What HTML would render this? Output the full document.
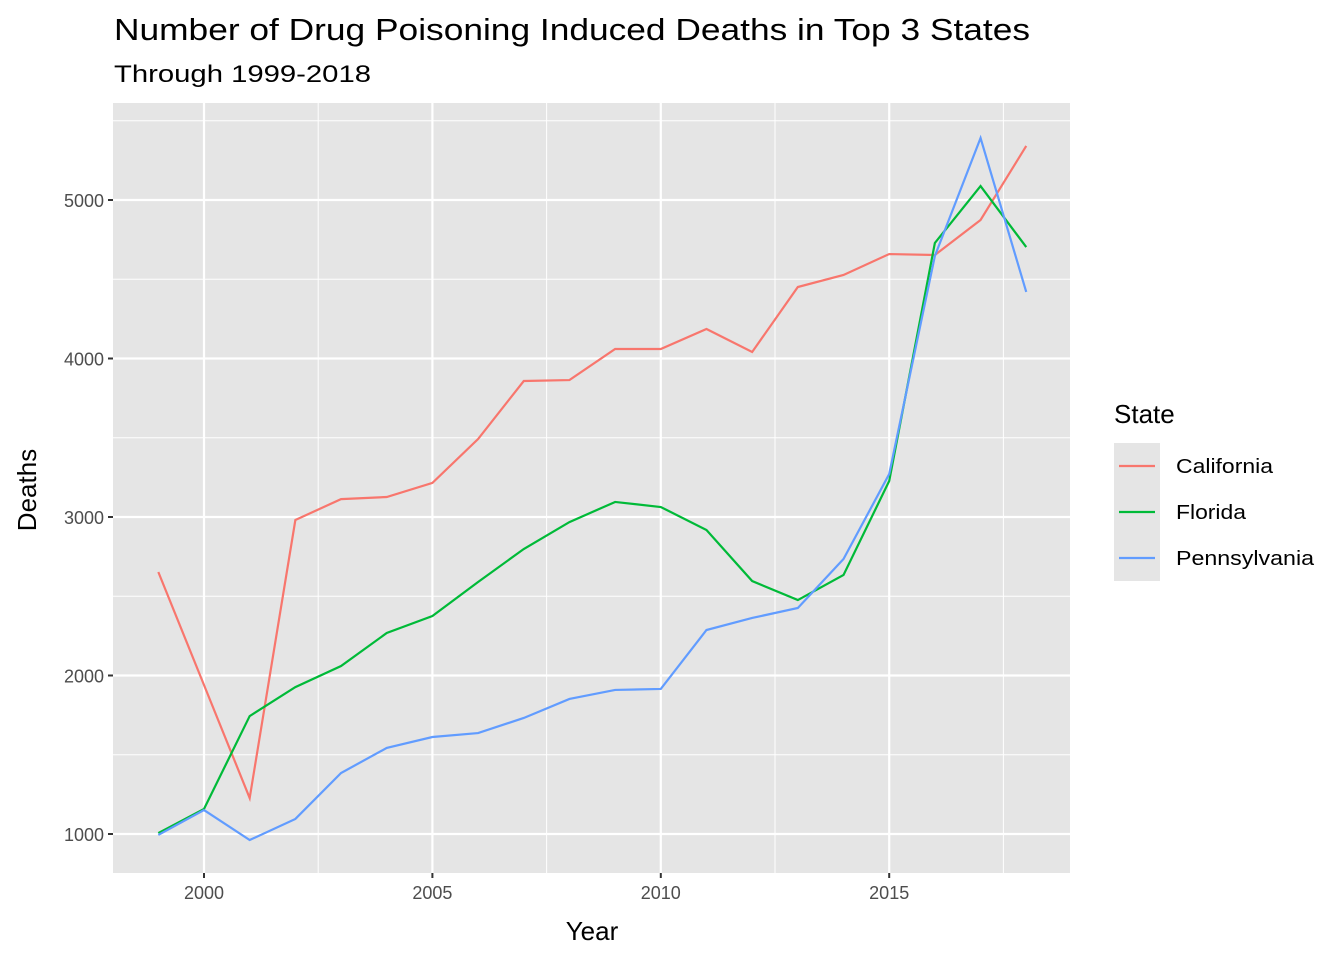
<!DOCTYPE html>
<html><head><meta charset="utf-8"><style>
body{margin:0;background:#fff;font-family:"Liberation Sans",Arial,sans-serif;}
</style></head><body>
<svg id="chart" width="1344" height="960" xmlns="http://www.w3.org/2000/svg">
<text x="114" y="40" font-size="31" textLength="916" lengthAdjust="spacingAndGlyphs" fill="#000">Number of Drug Poisoning Induced Deaths in Top 3 States</text>
<text x="114" y="82" font-size="24" textLength="257" lengthAdjust="spacingAndGlyphs" fill="#000">Through 1999-2018</text>
<rect x="113" y="103" width="957" height="770" fill="#e5e5e5"/>
<g id="grid"></g>
<g id="lines"></g>
<g id="axes"></g>
<text x="592" y="940" font-size="26" text-anchor="middle">Year</text>
<text transform="translate(36,490) rotate(-90)" font-size="26" text-anchor="middle">Deaths</text>
<text x="1114" y="423" font-size="26">State</text>
<g id="legend"></g>
</svg>
<script>
const years=[1999,2000,2001,2002,2003,2004,2005,2006,2007,2008,2009,2010,2011,2012,2013,2014,2015,2016,2017,2018];
const california=[2653,1940,1227,2981,3113,3126,3215,3492,3858,3864,4060,4060,4186,4041,4451,4527,4659,4653,4874,5341];
const florida=[1006,1158,1744,1927,2060,2268,2375,2590,2798,2968,3095,3063,2918,2596,2476,2634,3227,4729,5088,4703];
const pennsylvania=[994,1151,962,1095,1385,1543,1612,1637,1732,1852,1909,1915,2287,2363,2426,2735,3271,4647,5391,4420];
const seriesNames=["California","Florida","Pennsylvania"];
const seriesColors=["#f8766d","#00ba38","#619cff"];
const xTicks=[2000,2005,2010,2015];
const yTicks=[1000,2000,3000,4000,5000];
const NS="http://www.w3.org/2000/svg";
const X=v=>204+(v-2000)*45.68;
const Y=v=>834-(v-1000)*0.1585;
const PX0=113,PX1=1070,PY0=103,PY1=873;
function mk(tag,attrs,parent){const e=document.createElementNS(NS,tag);for(const k in attrs)e.setAttribute(k,attrs[k]);parent.appendChild(e);return e;}
const grid=document.getElementById('grid');
for(let v=1500;v<=5500;v+=1000){const l=mk('line',{x1:PX0,x2:PX1,y1:Y(v),y2:Y(v),stroke:'#fff','stroke-width':1},grid);

}
for(let v=2002.5;v<2019;v+=5){const l=mk('line',{x1:X(v),x2:X(v),y1:PY0,y2:PY1,stroke:'#fff','stroke-width':1},grid);

}
yTicks.forEach(v=>{const l=mk('line',{x1:PX0,x2:PX1,y1:Y(v),y2:Y(v),stroke:'#fff','stroke-width':2.2},grid);

});
xTicks.forEach(v=>{const l=mk('line',{x1:X(v),x2:X(v),y1:PY0,y2:PY1,stroke:'#fff','stroke-width':2.2},grid);

});
const axes=document.getElementById('axes');
yTicks.forEach(v=>{mk('line',{x1:PX0-5,x2:PX0,y1:Y(v),y2:Y(v),stroke:'#333','stroke-width':2},axes);
const t=mk('text',{x:PX0-9,y:Y(v)+7,'font-size':18,'text-anchor':'end',fill:'#4d4d4d'},axes);t.textContent=v;

});
xTicks.forEach(v=>{mk('line',{x1:X(v),x2:X(v),y1:PY1,y2:PY1+5,stroke:'#333','stroke-width':2},axes);
const t=mk('text',{x:X(v),y:PY1+26,'font-size':18,'text-anchor':'middle',fill:'#4d4d4d'},axes);t.textContent=v;

});
const lines=document.getElementById('lines');
[california,florida,pennsylvania].forEach((d,i)=>{const p=mk('polyline',{points:d.map((v,j)=>X(years[j])+','+Y(v)).join(' '),fill:'none',stroke:seriesColors[i],'stroke-width':2.2},lines);

});
const lg=document.getElementById('legend');
const legendWidths=[97,70,138];
seriesNames.forEach((n,i)=>{const cy=466+i*46;
const r=mk('rect',{x:1114,y:cy-23,width:46,height:46,fill:'#e5e5e5'},lg);


mk('line',{x1:1119,x2:1155,y1:cy,y2:cy,stroke:seriesColors[i],'stroke-width':2.2},lg);
const t=mk('text',{x:1176,y:cy+7,'font-size':20,fill:'#000',textLength:legendWidths[i],lengthAdjust:'spacingAndGlyphs'},lg);t.textContent=n;

});
</script>
</body></html>
